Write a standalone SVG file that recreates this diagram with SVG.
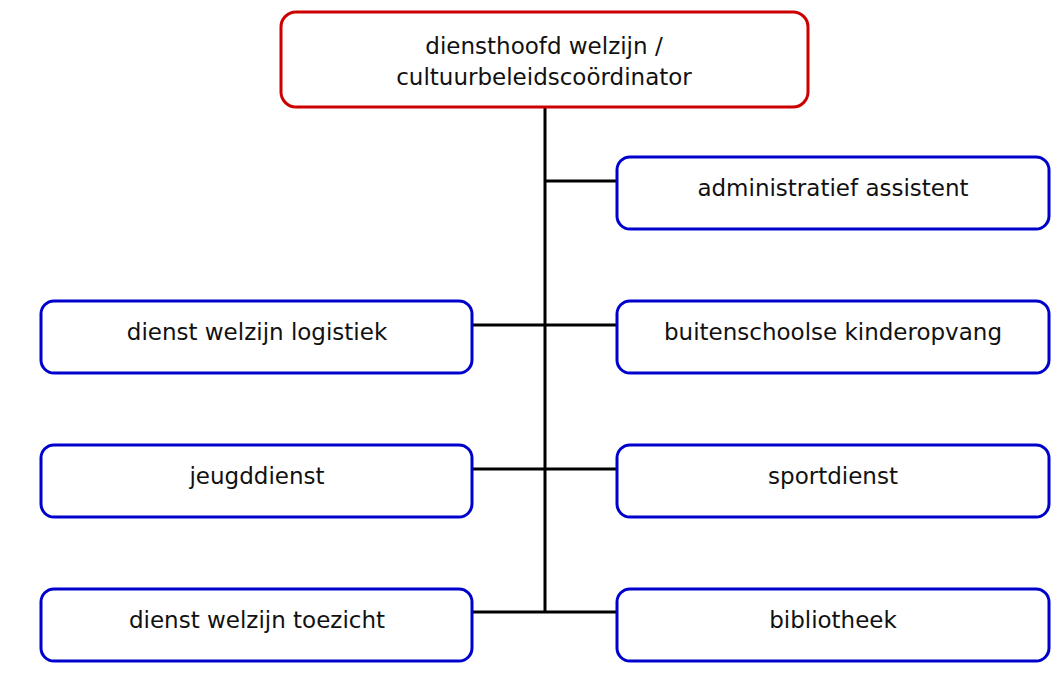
<svg xmlns="http://www.w3.org/2000/svg" width="1060" height="677" viewBox="0 0 1060 677">
<style>
.box{fill:#fff;stroke:#0000cc;stroke-width:3}
.top{fill:#fff;stroke:#cc0000;stroke-width:3}
.t{font-family:"DejaVu Sans",sans-serif;font-size:23px;fill:#111;text-anchor:middle}
.c{stroke:#000;stroke-width:3;fill:none}
</style>
<rect width="1060" height="677" fill="#fff"/>
<g id="connectors">
<line class="c" x1="545" y1="107" x2="545" y2="613"/>
<line class="c" x1="545" y1="181" x2="617" y2="181"/>
<line class="c" x1="472" y1="325" x2="617" y2="325"/>
<line class="c" x1="472" y1="469" x2="617" y2="469"/>
<line class="c" x1="472" y1="612" x2="617" y2="612"/>
</g>
<g id="n0"><rect class="top" x="281" y="12" width="527" height="95" rx="15"/><text class="t" x="544" y="54">diensthoofd welzijn /</text><text class="t" x="544" y="85">cultuurbeleidscoördinator</text></g>
<g id="n1"><rect class="box" x="617" y="157" width="432" height="72" rx="13"/><text class="t" x="833" y="196">administratief assistent</text></g>
<g id="n2"><rect class="box" x="41" y="301" width="431" height="72" rx="13"/><text class="t" x="257" y="340">dienst welzijn logistiek</text></g>
<g id="n3"><rect class="box" x="617" y="301" width="432" height="72" rx="13"/><text class="t" x="833" y="340">buitenschoolse kinderopvang</text></g>
<g id="n4"><rect class="box" x="41" y="445" width="431" height="72" rx="13"/><text class="t" x="257" y="484">jeugddienst</text></g>
<g id="n5"><rect class="box" x="617" y="445" width="432" height="72" rx="13"/><text class="t" x="833" y="484">sportdienst</text></g>
<g id="n6"><rect class="box" x="41" y="589" width="431" height="72" rx="13"/><text class="t" x="257" y="628">dienst welzijn toezicht</text></g>
<g id="n7"><rect class="box" x="617" y="589" width="432" height="72" rx="13"/><text class="t" x="833" y="628">bibliotheek</text></g>
</svg>
